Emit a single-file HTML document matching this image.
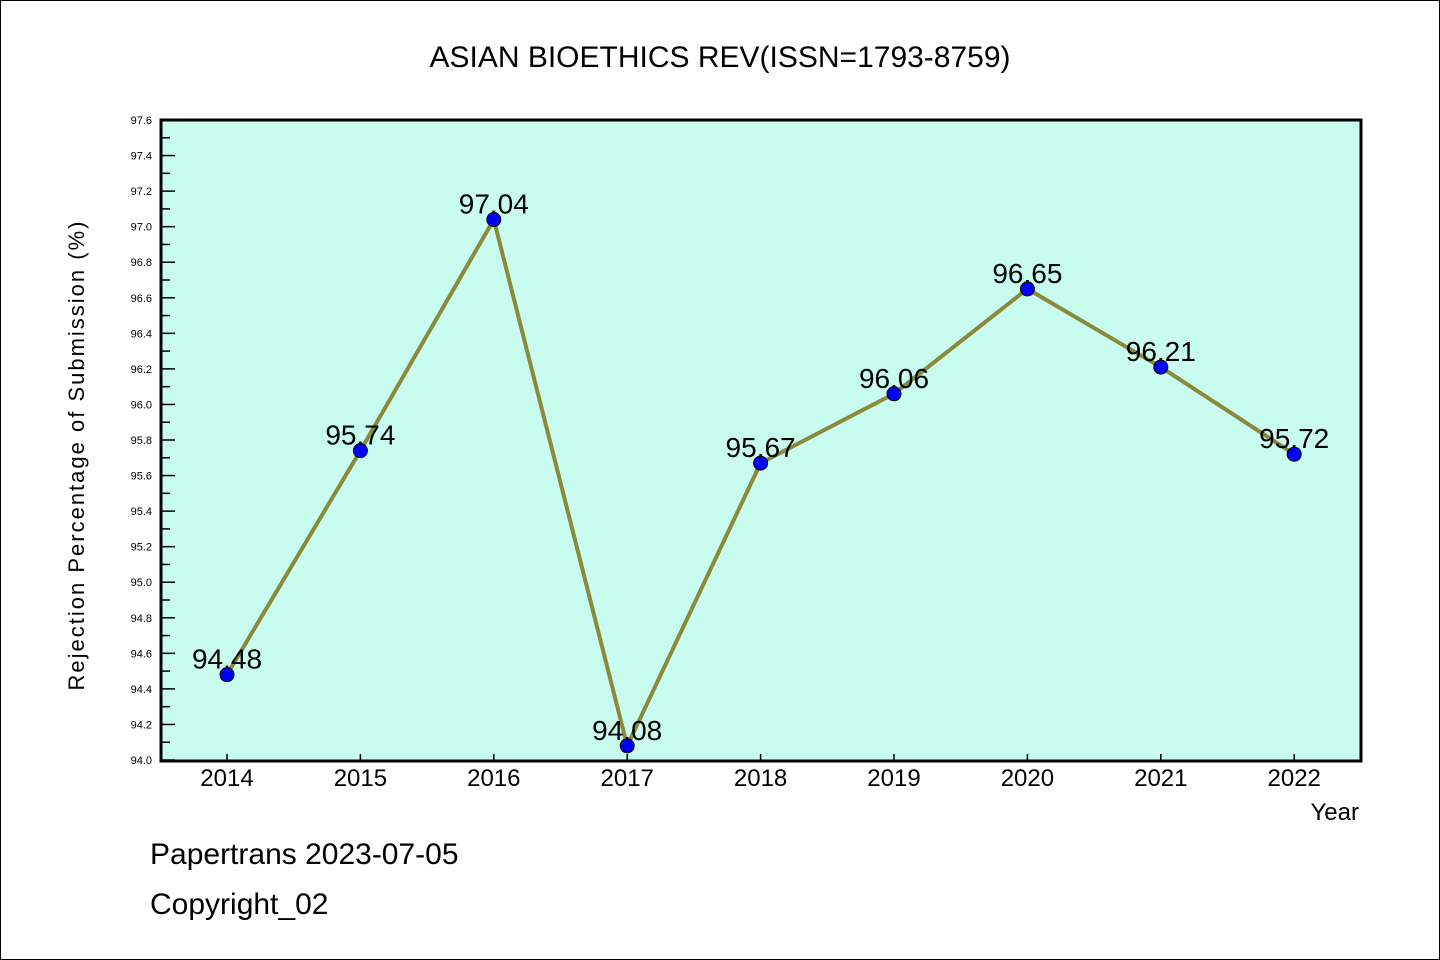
<!DOCTYPE html>
<html><head><meta charset="utf-8"><style>
body{margin:0;background:#fff}
svg{display:block}
text{font-family:"WenQuanYi Zen Hei Mono","WenQuanYi Zen Hei","Liberation Sans",sans-serif;fill:#000}
</style></head><body>
<svg id="chart" width="1440" height="960" viewBox="0 0 1440 960">
<rect x="0.5" y="0.5" width="1439" height="959" fill="#fff" stroke="#000"/>
<text x="720" y="67" font-size="30" text-anchor="middle">ASIAN BIOETHICS REV(ISSN=1793-8759)</text>
<rect x="161" y="120" width="1200" height="641" fill="#c8fcee"/>
<g id="yaxis"></g>
<g id="xaxis"></g>
<g id="series"></g>
<rect x="161" y="120" width="1200" height="641" fill="none" stroke="#000" stroke-width="3"/>
<text transform="translate(84,455) rotate(-90)" font-size="22" text-anchor="middle" letter-spacing="2">Rejection Percentage of Submission (%)</text>
<text x="1359" y="820" font-size="24" text-anchor="end">Year</text>
<text x="150" y="864" font-size="30">Papertrans 2023-07-05</text>
<text x="150" y="914" font-size="30">Copyright_02</text>
</svg>
<script>
const years=["2014","2015","2016","2017","2018","2019","2020","2021","2022"];
const values=[94.48,95.74,97.04,94.08,95.67,96.06,96.65,96.21,95.72];
const yTicks=["94.0","94.2","94.4","94.6","94.8","95.0","95.2","95.4","95.6","95.8","96.0","96.2","96.4","96.6","96.8","97.0","97.2","97.4","97.6"];
const yMin=94.0,yMax=97.6,plotTop=120,plotBottom=760,plotLeft=161;
const NS="http://www.w3.org/2000/svg";
function yS(v){return plotBottom-(v-yMin)/(yMax-yMin)*(plotBottom-plotTop);}
function xS(i){return 227+i*133.4;}
function mk(t,a,p){const e=document.createElementNS(NS,t);for(const k in a)e.setAttribute(k,a[k]);p.appendChild(e);return e;}
const ya=document.getElementById('yaxis'),xa=document.getElementById('xaxis'),se=document.getElementById('series');
yTicks.forEach((t,i)=>{const v=parseFloat(t),yy=yS(v);
 const l=mk('line',{x1:plotLeft,x2:plotLeft+14,y1:yy,y2:yy,stroke:'#000','stroke-width':1.5},ya);
 
 
 const tx=mk('text',{x:152,y:yy+4,'font-size':11,'text-anchor':'end'},ya);tx.textContent=t;
 
 
 if(i<yTicks.length-1){const ym=yS(v+0.1);const m=mk('line',{x1:plotLeft,x2:plotLeft+9,y1:ym,y2:ym,stroke:'#000','stroke-width':1.5},ya);
 
 }
});
years.forEach((yr,i)=>{const xx=xS(i);
 const l=mk('line',{x1:xx,x2:xx,y1:plotBottom-6,y2:plotBottom,stroke:'#000','stroke-width':1.5},xa);
 
 
 const t=mk('text',{x:xx,y:786,'font-size':24,'text-anchor':'middle'},xa);t.textContent=yr;
 
 
});
const pts=values.map((v,i)=>xS(i)+','+yS(v)).join(' ');
const pl=mk('polyline',{points:pts,fill:'none',stroke:'#8b8a3a','stroke-width':4,'stroke-linejoin':'round'},se);


values.forEach((v,i)=>{
 const c=mk('circle',{cx:xS(i),cy:yS(v),r:7,fill:'#0000ff',stroke:'#000','stroke-width':1},se);
 
 
 const t=mk('text',{x:xS(i),y:yS(v)-6,'font-size':28,'text-anchor':'middle'},se);t.textContent=v.toFixed(2);
 
 
});
</script>
</body></html>
